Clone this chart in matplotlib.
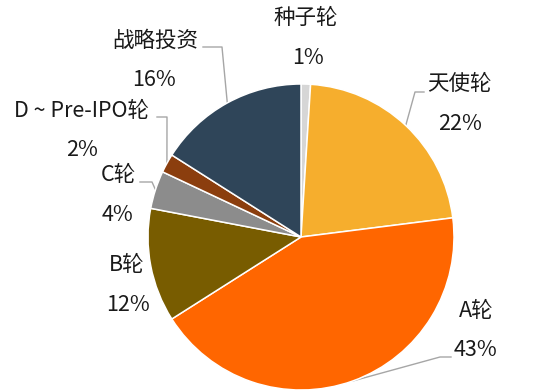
import matplotlib
matplotlib.use('Agg')
import matplotlib.pyplot as plt
import numpy as np

plt.rcParams['font.family'] = ['Noto Sans CJK SC', 'DejaVu Sans']

# data
rounds = ['种子轮', '天使轮', 'A轮', 'B轮', 'C轮', 'D ~ Pre-IPO轮', '战略投资']
shares = [1, 22, 43, 12, 4, 2, 16]
colors = ['#D6D6D6', '#F6AE2D', '#FF6600', '#785C00', '#8C8C8C', '#8B3E0E', '#2F4559']

W, H = 543, 392
cx, cy, R = 301, 237, 153   # pie centre / radius in pixels


def px(x, y):
    # pixel position -> data units (pie centre 0,0 radius 1)
    return (x - cx) / R, (cy - y) / R


fig = plt.figure(figsize=(W / 100, H / 100), dpi=100)
ax = fig.add_axes([0, 0, 1, 1])

wedges, _ = ax.pie(shares, colors=colors, startangle=90, counterclock=False,
                   radius=1.0, center=(0, 0),
                   wedgeprops=dict(edgecolor='white', linewidth=1.1))

# pie() resets limits, so set them afterwards
ax.set_xlim((0 - cx) / R, (W - cx) / R)
ax.set_ylim((cy - H) / R, cy / R)
ax.set_aspect('equal')
ax.axis('off')

# label name / percent positions (pixel centres)
name_pos = [(306, 18), (459, 84), (476, 311), (127, 265), (118, 175), (81, 111), (155, 41)]
pct_pos = [(308, 58), (460, 124), (476, 350), (128, 305), (118, 215), (82, 150), (154, 80)]
# leader lines: elbow and end (None = no line drawn)
leaders = [None, ((415, 92), (424, 92)), ((440, 357), (451, 357)), None,
           ((152, 182), (140, 182)), ((167, 117), (157, 117)), ((222, 47), (203, 47))]

for w, name, s, npos, ppos, ld in zip(wedges, rounds, shares, name_pos, pct_pos, leaders):
    ax.text(*px(*npos), name, ha='center', va='center', fontsize=15.5,
            color='#1a1a1a')
    ax.text(*px(*ppos), f'{s}%', ha='center', va='center', fontsize=15.5,
            color='#1a1a1a')
    if ld is not None:
        mid = np.deg2rad((w.theta1 + w.theta2) / 2)
        x0, y0 = np.cos(mid), np.sin(mid)
        (ex, ey), (fx, fy) = px(*ld[0]), px(*ld[1])
        ax.plot([x0, ex, fx], [y0, ey, fy], color='#A6A6A6', lw=1.0, zorder=0.5)

fig.savefig('out.png', dpi=100)
